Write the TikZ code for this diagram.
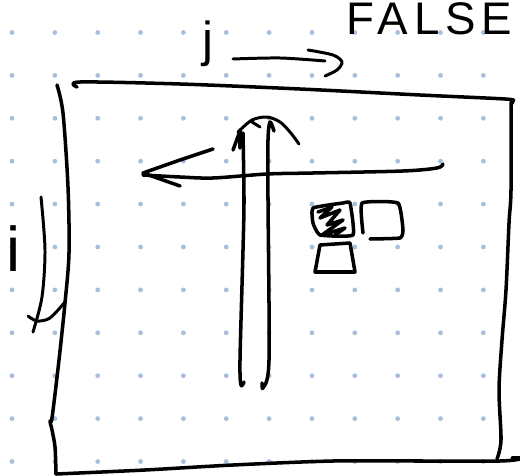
\documentclass[tikz,border=0pt]{standalone}
\usepackage{xcolor}
\usepackage{fontspec}
\setmainfont{Liberation Sans}
\newfontfamily\spacedfont[LetterSpace=13]{Liberation Sans}
\definecolor{dotblue}{HTML}{A9BEDC}
\begin{document}
\begin{tikzpicture}[x=0.02cm, y=-0.02cm,
  griddot/.style={fill=dotblue, draw=none},
  pen/.style={draw=black, line width=2pt, line cap=round, line join=round},
  thinpen/.style={draw=black, line width=1.7pt, line cap=round, line join=round},
  hand/.style={inner sep=0pt, anchor=base west, font=\fontsize{28}{28}\selectfont}]
\useasboundingbox (0,0) rectangle (520,476);
\fill[white] (0,0) rectangle (520,476);
% paper dots
\foreach \col in {0,...,11}
  \foreach \row in {0,...,10}
    \fill[griddot] (12+42.85*\col, 32.5+42.9*\row) circle (2.4);
% labels
\node[hand, font=\spacedfont\fontsize{26}{26}\selectfont] (falsetxt) at (346,35) {FALSE};
\node[hand] (jtxt) at (202,57) {j};
\node[hand, font=\fontsize{36}{36}\selectfont] (itxt) at (6,271) {i};
% frame
\draw[pen] plot[smooth] coordinates {(77,87) (80,82) (180,84) (300,89) (420,95) (505,99) (513,101) (511,104)};
\draw[pen] plot[smooth] coordinates {(511,102) (511,190) (509,223) (506,290) (502,340) (499,390) (501,440) (497,459)};
\draw[pen] plot[smooth] coordinates {(57,85) (63,113) (68,187) (69,253) (65,303) (59,360) (52,418) (50,421) (52,430) (55,447) (56,474)};
\draw[pen] plot[smooth] coordinates {(56,474) (145,470) (233,465) (333,461) (420,461) (500,461) (520,459)};
\draw[pen, line width=2.8pt] (513,458) -- (519,458);
% i arrow
\draw[thinpen] plot[smooth] coordinates {(41,197) (45,250) (42,297) (33,332)};
\draw[thinpen] plot[smooth] coordinates {(28,316) (37,321) (50,318) (65,302)};
% j arrow
\draw[thinpen] plot[smooth] coordinates {(233,59) (280,58) (325,61)};
\draw[thinpen] plot[smooth] coordinates {(308,50) (333,55) (342,62) (337,70) (325,76)};
% long arrow
\draw[pen] plot[smooth] coordinates {(443,164) (437,168) (403,171) (313,173) (267,174) (213,178) (180,177) (143,175)};
\draw[pen] plot coordinates {(213,149) (180,160) (143,173) (180,186)};
% two verticals and the turn
\draw[pen] plot[smooth] coordinates {(244,382) (241,385) (240,360) (243,250) (244,200) (243,133)};
\draw[pen] plot[smooth] coordinates {(262,383) (263,388) (269,360) (268,200) (268,140) (270,122) (274,131)};
\draw[thinpen] plot[smooth] coordinates {(238,132) (252,120) (267,117) (280,122) (290,132) (299,144)};
\draw[thinpen] (252,122) -- (260,127);
\draw[pen] (233,150) -- (240,131) -- (240,148);
% three squares
\draw[pen] plot[smooth cycle, tension=0.25] coordinates {(313,208) (343,203) (350,203) (353,235) (320,235) (313,223)};
\draw[pen] plot coordinates {(318,212) (332,207) (320,218) (340,210) (327,225) (343,220) (322,235) (345,228) (335,235)};
\draw[pen] plot[smooth, tension=0.25] coordinates {(363,233) (362,203) (398,203) (403,230) (400,238) (370,239)};
\draw[pen] (320,245) -- (315,272) -- (355,272) -- (350,243) -- cycle;
\end{tikzpicture}
\end{document}
